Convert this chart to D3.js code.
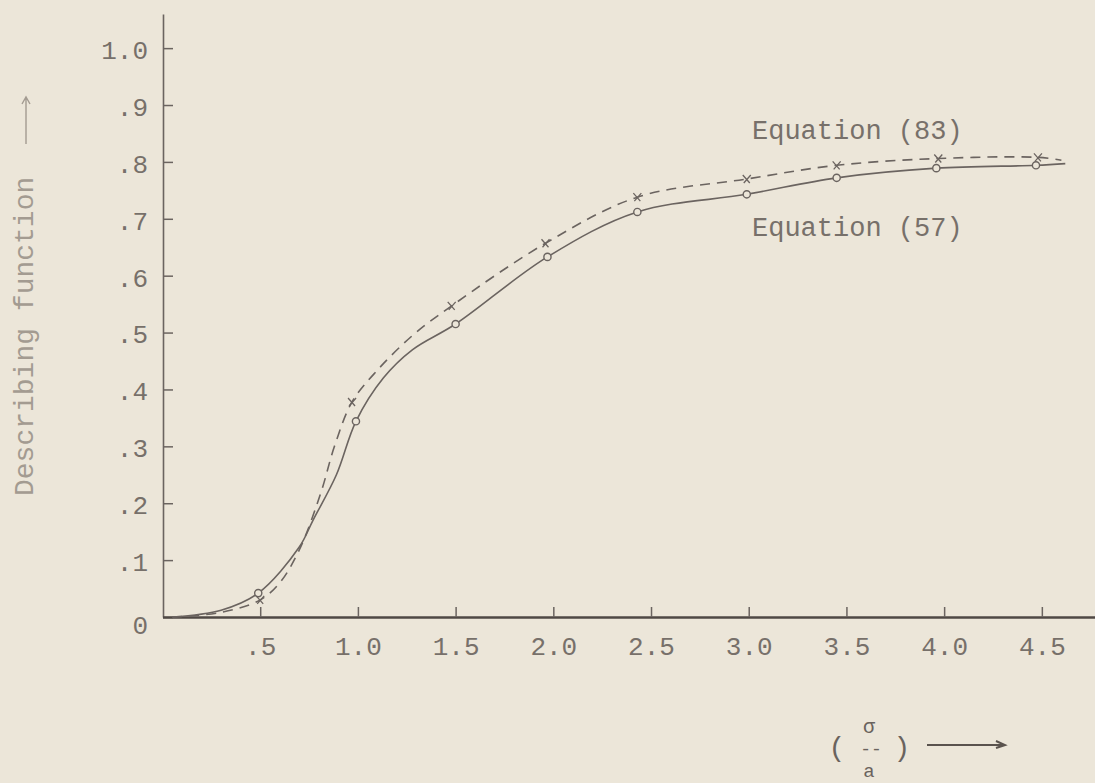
<!DOCTYPE html>
<html><head><meta charset="utf-8">
<script src="https://cdn.jsdelivr.net/npm/d3@7"></script>
<style>html,body{margin:0;padding:0;background:#ece6d9;} svg{display:block}</style>
</head><body>
<svg id="chart" width="1095" height="783"></svg>
<script>
// ---- data ----
const eq57CurveX = [0.05, 0.3, 0.49, 0.7, 0.77, 0.89, 0.99, 1.13, 1.28, 1.5, 1.97, 2.43, 2.99, 3.45, 3.96, 4.47, 4.62];
const eq57CurveY = [0.0, 0.012, 0.042, 0.123, 0.17, 0.25, 0.344, 0.42, 0.47, 0.515, 0.633, 0.712, 0.743, 0.772, 0.789, 0.794, 0.797];
const eq57MarkX = [0.49, 0.99, 1.5, 1.97, 2.43, 2.99, 3.45, 3.96, 4.47];
const eq57MarkY = [0.042, 0.344, 0.515, 0.633, 0.712, 0.743, 0.772, 0.789, 0.794];

const eq83CurveX = [0.05, 0.3, 0.5, 0.6, 0.7, 0.81, 0.88, 0.97, 1.10, 1.28, 1.48, 1.96, 2.43, 2.99, 3.45, 3.97, 4.48, 4.6];
const eq83CurveY = [0.0, 0.008, 0.03, 0.06, 0.118, 0.218, 0.30, 0.378, 0.434, 0.495, 0.547, 0.657, 0.738, 0.77, 0.794, 0.806, 0.808, 0.803];
const eq83MarkX = [0.5, 0.97, 1.48, 1.96, 2.43, 2.99, 3.45, 3.97, 4.48];
const eq83MarkY = [0.03, 0.378, 0.547, 0.657, 0.738, 0.77, 0.794, 0.806, 0.808];

const seriesNames = ["Equation (83)", "Equation (57)"];
const yTickValues = [0, 0.1, 0.2, 0.3, 0.4, 0.5, 0.6, 0.7, 0.8, 0.9, 1.0];
const yTickLabels = ["0", ".1", ".2", ".3", ".4", ".5", ".6", ".7", ".8", ".9", "1.0"];
const xTickValues = [0.5, 1.0, 1.5, 2.0, 2.5, 3.0, 3.5, 4.0, 4.5];
const xTickLabels = [".5", "1.0", "1.5", "2.0", "2.5", "3.0", "3.5", "4.0", "4.5"];
const yTitle = "Describing function";

// ---- layout ----
const FONT = "'Liberation Mono', 'DejaVu Sans Mono', monospace";
const INK = "#6b6460";
const TEXT = "#77706a";
const LIGHT = "#a39b91";

const svg = d3.select("#chart");
const x = d3.scaleLinear().domain([0, 4.77]).range([162.5, 1094.6]);
const y = d3.scaleLinear().domain([0, 1.06]).range([617, 14]);

// y axis
const yAxis = d3.axisLeft(y).tickValues(yTickValues)
  .tickFormat((d, i) => yTickLabels[i]).tickSizeInner(-10).tickSizeOuter(0).tickPadding(15);
const gy = svg.append("g").attr("transform", "translate(163,0)").call(yAxis);
gy.select(".domain").attr("stroke", INK).attr("stroke-width", 1.6);
gy.selectAll(".tick line").attr("stroke", INK).attr("stroke-width", 1.5);
gy.selectAll(".tick text").attr("fill", TEXT).attr("font-family", FONT).attr("font-size", 26)
  .attr("dy", (d) => d === 0 ? "0.62em" : "0.4em");

// x axis
const xAxis = d3.axisBottom(x).tickValues(xTickValues)
  .tickFormat((d, i) => xTickLabels[i]).tickSizeInner(-10).tickSizeOuter(0).tickPadding(20);
const gx = svg.append("g").attr("transform", "translate(0,617)").call(xAxis);
gx.select(".domain").attr("stroke", "#4f4844").attr("stroke-width", 2.6);
gx.selectAll(".tick line").attr("stroke", INK).attr("stroke-width", 1.5);
gx.selectAll(".tick text").attr("fill", TEXT).attr("font-family", FONT).attr("font-size", 26);

// curves
const line = d3.line().x(d => x(d[0])).y(d => y(d[1])).curve(d3.curveCatmullRom.alpha(0.5));
const eq57 = eq57CurveX.map((v, i) => [v, eq57CurveY[i]]);
const eq83 = eq83CurveX.map((v, i) => [v, eq83CurveY[i]]);

svg.append("path").datum(eq83).attr("d", line).attr("fill", "none")
  .attr("stroke", INK).attr("stroke-width", 1.6).attr("stroke-dasharray", "10,7");
svg.append("path").datum(eq57).attr("d", line).attr("fill", "none")
  .attr("stroke", INK).attr("stroke-width", 1.6);

// markers
svg.append("g").selectAll("circle").data(eq57MarkX.map((v, i) => [v, eq57MarkY[i]])).join("circle")
  .attr("cx", d => x(d[0])).attr("cy", d => y(d[1])).attr("r", 3.6)
  .attr("fill", "#ece6d9").attr("stroke", INK).attr("stroke-width", 1.4);
svg.append("g").selectAll("path").data(eq83MarkX.map((v, i) => [v, eq83MarkY[i]])).join("path")
  .attr("d", d => { const cx = x(d[0]), cy = y(d[1]);
    return `M${cx - 4},${cy - 4}L${cx + 3},${cy + 4}M${cx + 4},${cy - 4}L${cx - 3},${cy + 4}`; })
  .attr("stroke", INK).attr("stroke-width", 1.3).attr("fill", "none");

// series labels
svg.append("text").attr("x", 752).attr("y", 139).text(seriesNames[0])
  .attr("fill", TEXT).attr("font-family", FONT).attr("font-size", 27);
svg.append("text").attr("x", 752).attr("y", 236).text(seriesNames[1])
  .attr("fill", TEXT).attr("font-family", FONT).attr("font-size", 27);

// y title (rotated) with arrow
const yt = svg.append("g").attr("transform", "translate(33,496) rotate(-90)");
yt.append("text").attr("x", 0).attr("y", 0).text(yTitle)
  .attr("fill", LIGHT).attr("font-family", FONT).attr("font-size", 28);
yt.append("path").attr("d", "M352,-7 L399,-7 M392,-11 L399,-7 L392,-3")
  .attr("stroke", LIGHT).attr("stroke-width", 1.4).attr("fill", "none");

// x title ( sigma / a ) with arrow
const xt = svg.append("g").attr("fill", "#6a635e").attr("font-family", FONT).attr("text-anchor", "middle");
xt.append("text").attr("x", 837).attr("y", 756).attr("font-size", 28).text("(");
xt.append("text").attr("x", 902).attr("y", 756).attr("font-size", 28).text(")");
xt.append("text").attr("x", 869).attr("y", 733).attr("font-size", 20).text("σ");
xt.append("text").attr("x", 871).attr("y", 755).attr("font-size", 18).text("--");
xt.append("text").attr("x", 869).attr("y", 777).attr("font-size", 19).text("a");
svg.append("path").attr("d", "M927,745 L1005,745 M996,741 L1005,745 L996,748")
  .attr("stroke", "#5a534e").attr("stroke-width", 2).attr("fill", "none");
</script>
</body></html>
